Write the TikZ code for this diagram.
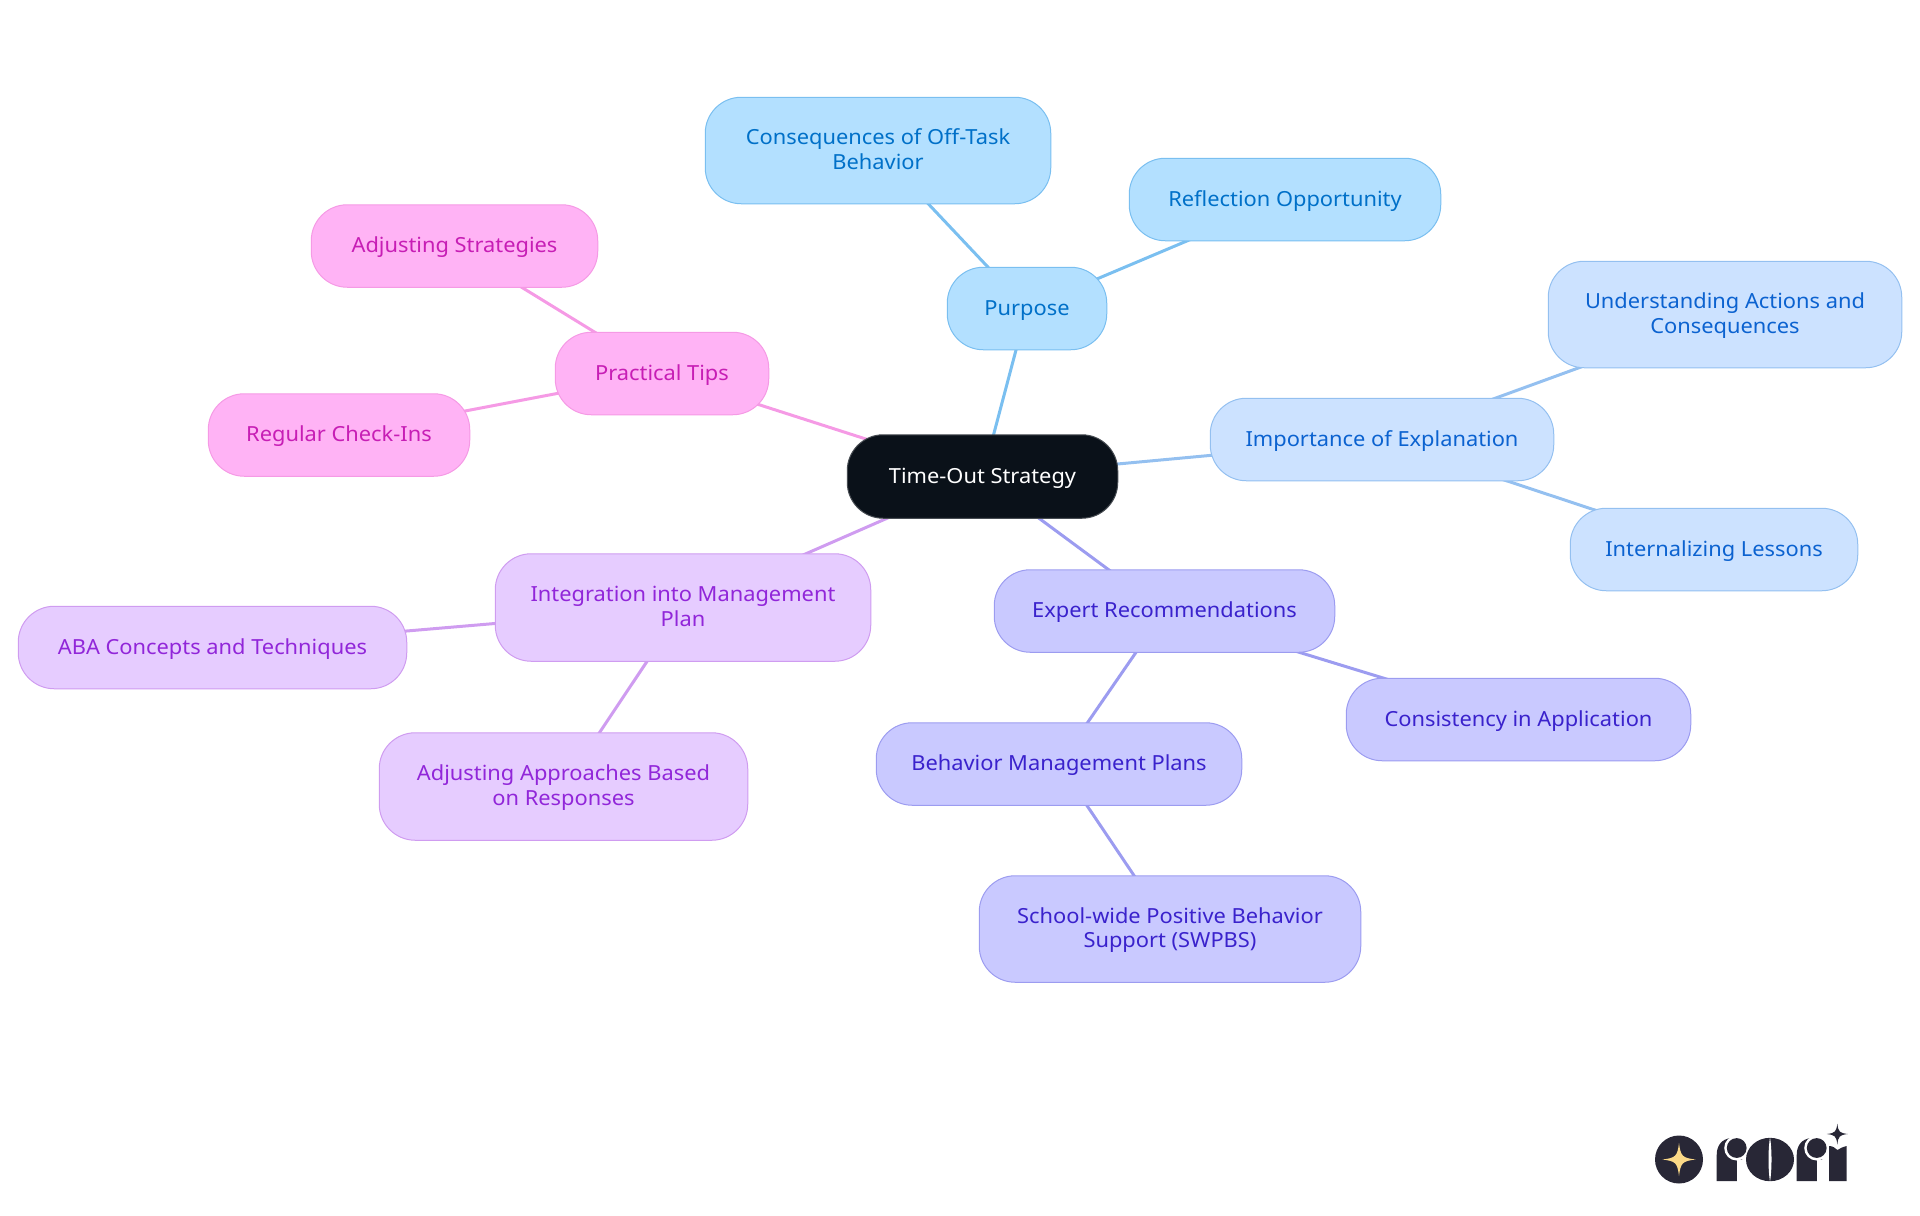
\documentclass[tikz,border=0pt]{standalone}
\usepackage{fontspec}
\setmainfont{Noto Sans}[FakeStretch=1.05]
\usetikzlibrary{backgrounds}
\definecolor{rootfill}{HTML}{0A1119}
\definecolor{fa}{HTML}{B3E0FF}\definecolor{sa}{HTML}{7ABFF0}\definecolor{ta}{HTML}{0070C8}
\definecolor{fb}{HTML}{CCE2FF}\definecolor{sb}{HTML}{94C0F0}\definecolor{tb}{HTML}{0B62D0}
\definecolor{fc}{HTML}{C9C9FF}\definecolor{sc}{HTML}{9C9CF0}\definecolor{tc}{HTML}{3A22CC}
\definecolor{fd}{HTML}{E6CCFF}\definecolor{sd}{HTML}{CF9CF0}\definecolor{td}{HTML}{9126D9}
\definecolor{fe}{HTML}{FFB3F5}\definecolor{se}{HTML}{F59AE5}\definecolor{te}{HTML}{C71EB5}
\definecolor{logodark}{HTML}{282736}
\definecolor{logostar}{HTML}{FBD987}
\tikzset{
  x=0.75pt,y=-0.75pt,
  mapbox/.style={rectangle,rounded corners=27pt,inner sep=0pt,line width=0.75pt,align=center,
    font=\fontsize{15.6}{18.3}\selectfont},
  rootbox/.style={mapbox,fill=rootfill,draw=rootfill!75!white,text=white},
  boxa/.style={mapbox,fill=fa,draw=sa,text=ta},
  boxb/.style={mapbox,fill=fb,draw=sb,text=tb},
  boxc/.style={mapbox,fill=fc,draw=sc,text=tc},
  boxd/.style={mapbox,fill=fd,draw=sd,text=td},
  boxe/.style={mapbox,fill=fe,draw=se,text=te},
  linka/.style={draw=sa,line width=2.25pt},
  linkb/.style={draw=sb,line width=2.25pt},
  linkc/.style={draw=sc,line width=2.25pt},
  linkd/.style={draw=sd,line width=2.25pt},
  linke/.style={draw=se,line width=2.25pt},
}
\newcommand\st{\rule[-4.15pt]{0pt}{18.3pt}}
\newcommand\mapnode[6]{\node[#1,minimum width=(#4-0.5)*0.75pt,minimum height=(#5-0.5)*0.75pt] (#2) at (#3) {#6};}
\newcommand\fourstar[4]{\fill[#4] (#1,#2-#3) .. controls (#1+0.1*#3,#2-0.2*#3) and (#1+0.2*#3,#2-0.1*#3) .. (#1+#3,#2)
  .. controls (#1+0.2*#3,#2+0.1*#3) and (#1+0.1*#3,#2+0.2*#3) .. (#1,#2+#3)
  .. controls (#1-0.1*#3,#2+0.2*#3) and (#1-0.2*#3,#2+0.1*#3) .. (#1-#3,#2)
  .. controls (#1-0.2*#3,#2-0.1*#3) and (#1-0.1*#3,#2-0.2*#3) .. (#1,#2-#3) -- cycle;}
\begin{document}
\begin{tikzpicture}
\useasboundingbox (0,0) rectangle (1920,1215);
\mapnode{rootbox}{root}{982.5,476.5}{271}{84}{\st Time-Out Strategy}
\mapnode{boxa}{purpose}{1027,308.5}{160}{83}{\st Purpose}
\mapnode{boxa}{conseq}{878,150.5}{346}{107}{\st Consequences of Off-Task\\\st Behavior}
\mapnode{boxa}{reflect}{1285,199.5}{312}{83}{\st Reflection Opportunity}
\mapnode{boxb}{explain}{1382,439.5}{344}{83}{\st Importance of Explanation}
\mapnode{boxb}{underst}{1725,314.5}{354}{107}{\st Understanding Actions and\\\st Consequences}
\mapnode{boxb}{internal}{1714,549.5}{288}{83}{\st Internalizing Lessons}
\mapnode{boxc}{expert}{1164.5,611}{341}{83}{\st Expert Recommendations}
\mapnode{boxc}{consist}{1518.5,719.5}{345}{83}{\st Consistency in Application}
\mapnode{boxc}{plans}{1059,764}{366}{83}{\st Behavior Management Plans}
\mapnode{boxc}{swpbs}{1170,929}{382}{107}{\st School-wide Positive Behavior\\\st Support (SWPBS)}
\mapnode{boxd}{integ}{683,607.5}{376}{108}{\st Integration into Management\\\st Plan}
\mapnode{boxd}{aba}{212.5,647.5}{389}{83}{\st ABA Concepts and Techniques}
\mapnode{boxd}{adjapp}{563.5,786.5}{369}{108}{\st Adjusting Approaches Based\\\st on Responses}
\mapnode{boxe}{tips}{662,373.5}{214}{83}{\st Practical Tips}
\mapnode{boxe}{adjstr}{454.5,246}{287}{83}{\st Adjusting Strategies}
\mapnode{boxe}{checkin}{339,435}{262}{83}{\st Regular Check-Ins}
\begin{pgfonlayer}{background}
\draw[linka] (root.center) -- (purpose.center);
\draw[linka] (purpose.center) -- (conseq.center);
\draw[linka] (purpose.center) -- (reflect.center);
\draw[linkb] (root.center) -- (explain.center);
\draw[linkb] (explain.center) -- (underst.center);
\draw[linkb] (explain.center) -- (internal.center);
\draw[linkc] (root.center) -- (expert.center);
\draw[linkc] (expert.center) -- (consist.center);
\draw[linkc] (expert.center) -- (plans.center);
\draw[linkc] (plans.center) -- (swpbs.center);
\draw[linkd] (root.center) -- (integ.center);
\draw[linkd] (integ.center) -- (aba.center);
\draw[linkd] (integ.center) -- (adjapp.center);
\draw[linke] (root.center) -- (tips.center);
\draw[linke] (tips.center) -- (adjstr.center);
\draw[linke] (tips.center) -- (checkin.center);
\end{pgfonlayer}
% logo
\fill[logodark] (1679,1159.5) circle[radius=24];
\fourstar{1679}{1159.5}{16.5}{logostar}
% first r
\fill[logodark] (1716.7,1181) -- (1716.7,1155) .. controls (1716.7,1145) and (1722,1139) .. (1731,1138) -- (1742,1138) -- (1742,1181) -- (1736.7,1181) -- cycle;
\fill[white] (1736.7,1148) circle[radius=12.5];
\fill[white] (1736.7,1160) rectangle (1745,1182);
\fill[logodark] (1736.7,1148) circle[radius=9.9];
% o
\fill[logodark] (1770,1159.5) ellipse[x radius=24,y radius=21.7];
\fill[white] (1770,1137) .. controls (1768,1150) and (1768,1169) .. (1770,1182) .. controls (1772,1169) and (1772,1150) .. (1770,1137) -- cycle;
% second r
\fill[logodark] (1796.7,1181) -- (1796.7,1155) .. controls (1796.7,1145) and (1802,1139) .. (1811,1138) -- (1822,1138) -- (1822,1181) -- (1816.7,1181) -- cycle;
\fill[white] (1816.7,1148) circle[radius=12.5];
\fill[white] (1816.7,1160) rectangle (1825,1182);
\fill[logodark] (1816.7,1148) circle[radius=9.9];
% i
\fill[logodark] (1829,1181) -- (1829,1146) .. controls (1833,1146) and (1835,1148) .. (1837.5,1150) .. controls (1840,1148) and (1843,1147) .. (1846.7,1146) -- (1846.7,1181) -- cycle;
\fourstar{1837.3}{1134}{10.5}{logodark}
\end{tikzpicture}
\end{document}
